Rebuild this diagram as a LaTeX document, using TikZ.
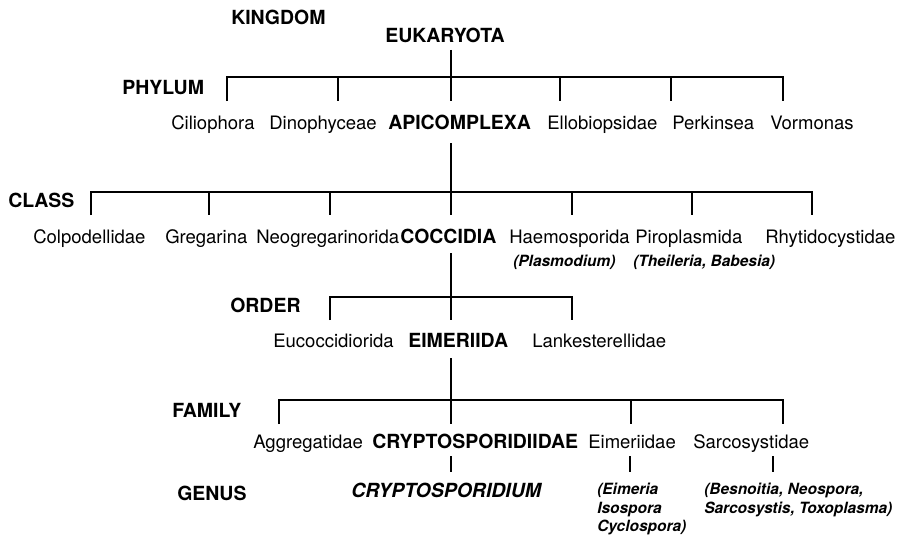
\documentclass[tikz,border=0pt]{standalone}
\usepackage{fontspec}
\setmainfont{TeX Gyre Heros}
\begin{document}
\begin{tikzpicture}[x=0.75pt,y=-0.75pt,
  rank/.style={font=\fontsize{14.6}{16}\selectfont\bfseries, inner sep=0, anchor=base west},
  taxon/.style={font=\fontsize{13.9}{16}\selectfont, inner sep=0, anchor=base west},
  keytaxon/.style={font=\fontsize{14.6}{16}\selectfont\bfseries, inner sep=0, anchor=base west},
  genustxt/.style={font=\fontsize{14.6}{16}\selectfont\bfseries\itshape, inner sep=0, anchor=base west},
  genera/.style={font=\fontsize{11.6}{13.9}\selectfont\bfseries\itshape, inner sep=0, align=left},
  branch/.style={line width=1.5pt, line join=miter}]
\useasboundingbox (0,0) rectangle (898,535);
\fill[white] (0,0) rectangle (898,535);

% rank labels
\node[rank] (lkingdom) at (231,25) {KINGDOM};
\node[rank] (lphylum)  at (122,94) {PHYLUM};
\node[rank] (lclass)   at (8,207)  {CLASS};
\node[rank] (lorder)   at (230,312) {ORDER};
\node[rank] (lfamily)  at (172,417) {FAMILY};
\node[rank] (lgenus)   at (177,500) {GENUS};

% kingdom
\node[keytaxon] (eukaryota) at (385,43) {EUKARYOTA};

% phyla
\node[taxon]    (ciliophora)  at (171,129) {Ciliophora};
\node[taxon]    (dinophyceae) at (269,129) {Dinophyceae};
\node[keytaxon] (apicomplexa) at (388,129) {APICOMPLEXA};
\node[taxon]    (ellobiop)    at (547,129) {Ellobiopsidae};
\node[taxon]    (perkinsea)   at (672,129) {Perkinsea};
\node[taxon]    (vormonas)    at (770,129) {Vormonas};

% classes
\node[taxon]    (colpodell)  at (33,243)  {Colpodellidae};
\node[taxon]    (gregarina)  at (165,243) {Gregarina};
\node[taxon]    (neogreg)    at (256,243) {Neogregarinorida};
\node[keytaxon] (coccidia)   at (400,243) {COCCIDIA};
\node[taxon]    (haemosp)    at (509,243) {Haemosporida};
\node[taxon]    (piroplasm)  at (635,243) {Piroplasmida};
\node[taxon]    (rhytido)    at (765,243) {Rhytidocystidae};
\node[genera, anchor=base west] (plasmodium) at (513,266) {(Plasmodium)};
\node[genera, anchor=base west] (theileria)  at (633,266) {(Theileria, Babesia)};

% orders
\node[taxon]    (eucocc)    at (273,347) {Eucoccidiorida};
\node[keytaxon] (eimeriida) at (408,347) {EIMERIIDA};
\node[taxon]    (lankest)   at (532,347) {Lankesterellidae};

% families
\node[taxon]    (aggreg)   at (253,448) {Aggregatidae};
\node[keytaxon] (cryptofam) at (372,448) {CRYPTOSPORIDIIDAE};
\node[taxon]    (eimeriid) at (588,448) {Eimeriidae};
\node[taxon]    (sarcocyst) at (693,448) {Sarcosystidae};

% genera
\node[genustxt] (cryptogen) at (351,497) {CRYPTOSPORIDIUM};
\node[genera, anchor=north west] (eimgen) at (597,483) {(Eimeria\\Isospora\\Cyclospora)};
\node[genera, anchor=north west] (sarcgen) at (704,483) {(Besnoitia, Neospora,\\Sarcosystis, Toxoplasma)};

% tree connectors
\coordinate (k0) at (451,50);
\coordinate (pbar) at (451,77);
\draw[branch] (k0) -- (pbar);
\draw[branch] (227,101) -- (227,77) -- (783,77) -- (783,101);
\foreach \x in {338,451,560,671} \draw[branch] (\x,77) -- (\x,101);

\coordinate (p0) at (451,143);
\coordinate (cbar) at (451,192);
\draw[branch] (p0) -- (cbar);
\draw[branch] (91,215) -- (91,192) -- (812,192) -- (812,215);
\foreach \x in {209,330,451,572,692} \draw[branch] (\x,192) -- (\x,215);

\coordinate (c0) at (451,253);
\coordinate (obar) at (451,297);
\draw[branch] (c0) -- (obar);
\draw[branch] (330,320) -- (330,297) -- (572,297) -- (572,320);
\draw[branch] (451,297) -- (451,320);

\coordinate (o0) at (451,358);
\coordinate (fbar) at (451,400);
\draw[branch] (o0) -- (fbar);
\draw[branch] (279,424) -- (279,400) -- (783,400) -- (783,424);
\foreach \x in {451,631} \draw[branch] (\x,400) -- (\x,424);

\foreach \x in {451,630,773} \draw[branch] (\x,456) -- (\x,472);
\end{tikzpicture}
\end{document}
